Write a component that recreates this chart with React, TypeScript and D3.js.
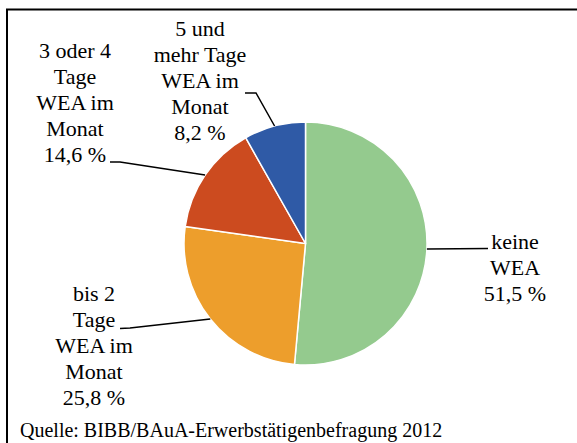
import { useEffect, useRef } from "react";
import * as d3 from "d3";

const categories = [
  "keine WEA",
  "bis 2 Tage WEA im Monat",
  "3 oder 4 Tage WEA im Monat",
  "5 und mehr Tage WEA im Monat",
];
const values = [51.5, 25.8, 14.6, 8.2];
const labelLines = [
  ["keine", "WEA", "51,5 %"],
  ["bis 2", "Tage", "WEA im", "Monat", "25,8 %"],
  ["3 oder 4", "Tage", "WEA im", "Monat", "14,6 %"],
  ["5 und", "mehr Tage", "WEA im", "Monat", "8,2 %"],
];
const colors = ["#94ca8e", "#ed9e2c", "#cc4b1f", "#2f5aa6"];
const source = "Quelle: BIBB/BAuA-Erwerbstätigenbefragung 2012";

// label layout: text centre x, first baseline y, leader elbow points
const labelLayout = [
  { x: 515, y: 249, elbow: [[488, 248.5]] },
  { x: 94, y: 300.5, elbow: [[120, 328.5], [130, 328]] },
  { x: 75, y: 57.5, elbow: [[110, 162], [120, 162]] },
  { x: 200, y: 35.5, elbow: [[245, 93], [256, 93]] },
];

const W = 577;
const H = 443;
const cx = 305.5;
const cy = 243.5;
const radius = 121.5;
const lineH = 26;
const font = "Liberation Serif";

const App = () => {
  const ref = useRef<SVGSVGElement>(null);

  useEffect(() => {
    const svg = d3.select(ref.current);
    svg.selectAll("*").remove();

    svg.append("rect").attr("width", W).attr("height", H).attr("fill", "#fff");

    // frame (top and left edges visible)
    svg
      .append("path")
      .attr("d", `M7,${H} L7,9.5 L${W},9.5`)
      .attr("fill", "none")
      .attr("stroke", "#000")
      .attr("stroke-width", 2);

    const pie = d3
      .pie<number>()
      .sort(null)
      .value((d) => d)
      .startAngle(0)
      .endAngle(2 * Math.PI);
    const arcs = pie(values);
    const arc = d3.arc<d3.PieArcDatum<number>>().innerRadius(0).outerRadius(radius);

    const g = svg.append("g").attr("transform", `translate(${cx},${cy})`);
    g.selectAll("path")
      .data(arcs)
      .enter()
      .append("path")
      .attr("d", arc)
      .attr("fill", (d, i) => colors[i])
      .attr("stroke", "#fff")
      .attr("stroke-width", 1.5)
      .attr("stroke-linejoin", "round");

    // leader lines
    arcs.forEach((d, i) => {
      const a = (d.startAngle + d.endAngle) / 2;
      const px = cx + radius * Math.sin(a);
      const py = cy - radius * Math.cos(a);
      const pts = [...labelLayout[i].elbow, [px, py]];
      svg
        .append("path")
        .attr("d", d3.line()(pts as [number, number][]))
        .attr("fill", "none")
        .attr("stroke", "#000")
        .attr("stroke-width", 1.5);
    });

    // labels
    labelLines.forEach((lines, i) => {
      const t = svg
        .append("text")
        .attr("x", labelLayout[i].x)
        .attr("y", labelLayout[i].y)
        .attr("text-anchor", "middle")
        .attr("font-family", font)
        .attr("font-size", 22)
        .attr("fill", "#000");
      lines.forEach((l, j) => {
        t.append("tspan")
          .attr("x", labelLayout[i].x)
          .attr("y", labelLayout[i].y + j * lineH)
          .text(l);
      });
    });

    svg
      .append("text")
      .attr("x", 20)
      .attr("y", 437)
      .attr("font-family", font)
      .attr("font-size", 20)
      .attr("fill", "#000")
      .text(source);
  }, []);

  return (
    <svg
      ref={ref}
      width={W}
      height={H}
      style={{ position: "absolute", left: 0, top: 0 }}
      aria-label={categories.join(", ")}
    />
  );
};

export default App;
